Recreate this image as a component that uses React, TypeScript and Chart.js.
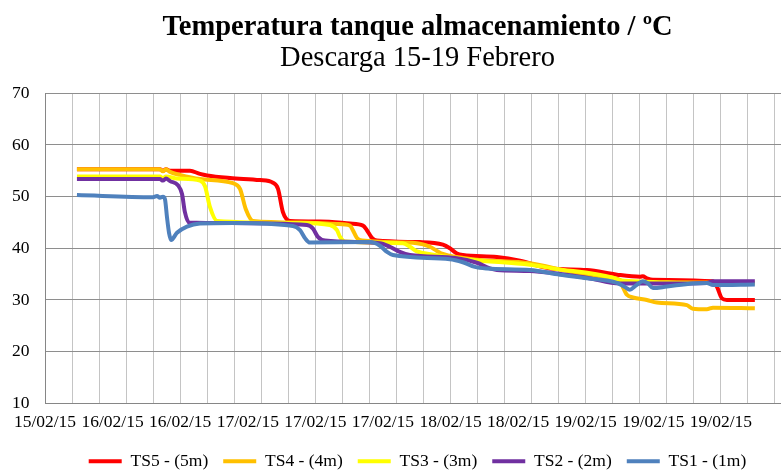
import React, { useEffect, useRef } from 'react';
import { Chart, registerables } from 'chart.js';

Chart.register(...registerables);

// ---- Data (time in days of February 2015, temperature in ºC) ----
const seriesNames = ['TS5 - (5m)', 'TS4 - (4m)', 'TS3 - (3m)', 'TS2 - (2m)', 'TS1 - (1m)'];
const seriesColors = ['#FF0000', '#FFC000', '#FFFF00', '#7030A0', '#4F81BD'];

const ts5Day = [15.989, 16.48, 16.498, 16.516, 16.54, 16.658, 16.717, 16.759, 16.895, 17.072, 17.149, 17.179, 17.208, 17.25, 17.427, 17.605, 17.682, 17.705, 17.735, 17.764, 18.019, 18.155, 18.196, 18.238, 18.273, 18.474, 18.611, 18.788, 19.007, 19.185, 19.321, 19.338, 19.362, 19.398, 19.753, 19.776, 19.806, 19.835, 20.001];
const ts5Temp = [55.3, 55.3, 55.0, 55.3, 55.0, 55.0, 54.4, 54.1, 53.6, 53.2, 52.7, 51.5, 47.0, 45.3, 45.2, 44.8, 44.4, 43.5, 42.0, 41.5, 41.2, 40.7, 40.0, 39.0, 38.7, 38.3, 37.6, 36.1, 35.8, 34.9, 34.5, 34.6, 34.2, 33.9, 33.6, 32.6, 30.3, 30.0, 30.0];

const ts4Day = [15.989, 16.48, 16.498, 16.516, 16.54, 16.599, 16.717, 16.912, 16.954, 16.989, 17.031, 17.309, 17.528, 17.605, 17.622, 17.646, 17.676, 18.001, 18.078, 18.119, 18.155, 18.356, 18.67, 18.906, 19.102, 19.202, 19.22, 19.244, 19.279, 19.362, 19.421, 19.599, 19.634, 19.717, 19.753, 20.001];
const ts4Temp = [55.3, 55.3, 54.9, 55.3, 54.8, 54.2, 53.4, 52.6, 51.5, 47.5, 45.3, 45.0, 44.7, 44.4, 43.5, 42.0, 41.5, 41.0, 40.3, 39.5, 38.9, 37.8, 37.1, 35.5, 34.5, 33.9, 32.5, 31.0, 30.5, 30.0, 29.5, 29.0, 28.3, 28.2, 28.5, 28.4];

const ts3Day = [15.989, 16.48, 16.498, 16.516, 16.581, 16.717, 16.747, 16.776, 16.818, 17.309, 17.486, 17.528, 17.546, 17.575, 17.918, 17.96, 18.001, 18.037, 18.315, 18.67, 18.806, 19.161, 19.202, 19.539, 20.001];
const ts3Temp = [53.9, 53.9, 53.6, 53.9, 53.5, 53.1, 52.0, 48.0, 45.3, 44.9, 44.5, 43.5, 42.2, 41.3, 41.0, 40.3, 39.4, 39.1, 37.8, 36.8, 36.1, 34.3, 33.8, 33.4, 33.3];

const ts2Day = [15.989, 16.48, 16.498, 16.516, 16.54, 16.587, 16.611, 16.628, 16.652, 16.895, 17.35, 17.386, 17.415, 17.457, 17.782, 17.841, 17.9, 17.96, 18.238, 18.356, 18.433, 18.474, 18.67, 19.007, 19.202, 19.457, 19.717, 19.753, 20.001];
const ts2Temp = [53.4, 53.4, 53.1, 53.5, 53.0, 52.2, 50.5, 47.0, 45.0, 44.9, 44.5, 43.8, 42.2, 41.5, 41.0, 40.3, 39.3, 38.7, 38.1, 37.2, 36.1, 35.8, 35.6, 34.3, 33.2, 33.2, 33.3, 33.6, 33.6];

const ts1Day = [15.989, 16.439, 16.463, 16.48, 16.498, 16.51, 16.522, 16.534, 16.546, 16.581, 16.64, 16.717, 16.912, 17.267, 17.309, 17.338, 17.368, 17.723, 17.782, 17.824, 17.859, 18.196, 18.273, 18.344, 18.415, 18.67, 18.847, 19.007, 19.185, 19.232, 19.261, 19.297, 19.338, 19.368, 19.398, 19.48, 19.634, 19.717, 19.753, 20.001];
const ts1Temp = [50.3, 49.9, 50.1, 49.8, 50.0, 49.5, 46.0, 43.0, 41.6, 43.0, 44.2, 44.8, 44.9, 44.3, 43.5, 42.0, 41.1, 41.2, 40.5, 39.3, 38.7, 37.9, 37.3, 36.4, 36.1, 35.8, 34.9, 34.2, 33.3, 32.5, 32.0, 32.8, 33.6, 33.2, 32.3, 32.6, 33.2, 33.3, 32.9, 33.0];

const seriesDays = [ts5Day, ts4Day, ts3Day, ts2Day, ts1Day];
const seriesTemps = [ts5Temp, ts4Temp, ts3Temp, ts2Temp, ts1Temp];

const xTickLabels = ['15/02/15', '16/02/15', '16/02/15', '17/02/15', '17/02/15', '17/02/15', '18/02/15', '18/02/15', '19/02/15', '19/02/15', '19/02/15'];
const xAxisStart = 15.8;   // day of first label
const xGridStep = 0.16;    // days between vertical gridlines
const xGridCount = 28;
const yMin = 10;
const yMax = 70;
const yStep = 10;

const titleText = 'Temperatura tanque almacenamiento / ºC';
const subtitleText = 'Descarga 15-19 Febrero';

const SERIF = "'Liberation Serif', 'Times New Roman', Times, serif";

export default function App() {
  const canvasRef = useRef<HTMLCanvasElement | null>(null);

  useEffect(() => {
    if (!canvasRef.current) return;
    const datasets = seriesNames.map((name, i) => ({
      label: name,
      data: seriesDays[i].map((d, k) => ({ x: d, y: seriesTemps[i][k] })),
      borderColor: seriesColors[i],
      backgroundColor: seriesColors[i],
      borderWidth: 4,
      pointRadius: 0,
      cubicInterpolationMode: 'monotone' as const,
      fill: false,
      order: seriesNames.length - i,
      yAxisID: 'y',
    }));

    const halfStep = xGridStep / 2;
    const chart = new Chart(canvasRef.current, {
      type: 'line',
      data: { datasets },
      options: {
        animation: false,
        responsive: false,
        devicePixelRatio: 1,
        layout: { padding: { left: 0, right: 0, top: 0, bottom: 1 } },
        plugins: {
          title: {
            display: true,
            text: titleText,
            color: '#000',
            font: { family: SERIF, size: 28.5, weight: 'bold', lineHeight: 1 },
            padding: { top: 13.5, bottom: 0 },
          },
          subtitle: {
            display: true,
            text: subtitleText,
            color: '#000',
            font: { family: SERIF, size: 28.5, weight: 'normal', lineHeight: 1 },
            padding: { top: 2.4, bottom: 20.4 },
          },
          legend: {
            display: true,
            position: 'bottom',
            labels: {
              boxWidth: 33,
              boxHeight: 4,
              padding: 15,
              color: '#000',
              font: { family: SERIF, size: 17.5 },
              generateLabels: (c: any) =>
                Chart.defaults.plugins.legend.labels
                  .generateLabels(c)
                  .map((l: any) => ({ ...l, lineWidth: 0 })),
              sort: (a: any, b: any) => a.datasetIndex - b.datasetIndex,
            },
          },
          tooltip: { enabled: false },
        },
        scales: {
          x: {
            type: 'linear',
            min: xAxisStart,
            max: xAxisStart + xGridCount * xGridStep,
            afterBuildTicks: (scale: any) => {
              const ticks = [];
              for (let k = 0; k <= xGridCount * 2; k++) {
                ticks.push({ value: xAxisStart + k * halfStep });
              }
              scale.ticks = ticks;
            },
            afterFit: (scale: any) => {
              scale.height = 34.2;
            },
            grid: {
              color: (ctx: any) => (ctx.index % 2 === 0 ? '#c4c4c4' : 'rgba(0,0,0,0)'),
              lineWidth: 1,
              drawTicks: false,
            },
            border: { display: true, color: '#868686', width: 1 },
            ticks: {
              autoSkip: false,
              maxRotation: 0,
              minRotation: 0,
              padding: 9,
              color: '#000',
              font: { family: SERIF, size: 17.5 },
              callback: (_v: any, index: number) =>
                index % 5 === 0 && xTickLabels[index / 5] !== undefined ? xTickLabels[index / 5] : '',
            },
          },
          y: {
            type: 'linear',
            position: 'left',
            min: yMin,
            max: yMax,
            afterFit: (scale: any) => {
              scale.width = 45;
            },
            grid: { color: '#8e8e8e', lineWidth: 1, drawTicks: false },
            border: { display: true, color: '#868686', width: 1 },
            ticks: {
              stepSize: yStep,
              padding: 15.5,
              color: '#000',
              font: { family: SERIF, size: 17.5 },
            },
          },
          yRight: {
            type: 'linear',
            position: 'right',
            display: true,
            grid: { display: false, drawTicks: false },
            border: { display: false },
            ticks: { display: false },
            afterFit: (scale: any) => {
              scale.width = 33;
            },
          },
        },
      },
    } as any);
    return () => chart.destroy();
  }, []);

  return (
    <div
      style={{
        position: 'fixed',
        left: 0,
        top: 0,
        width: 781,
        height: 471,
        overflow: 'hidden',
        background: '#fff',
      }}
    >
      <canvas ref={canvasRef} width={835} height={481} style={{ display: 'block' }} />
    </div>
  );
}
